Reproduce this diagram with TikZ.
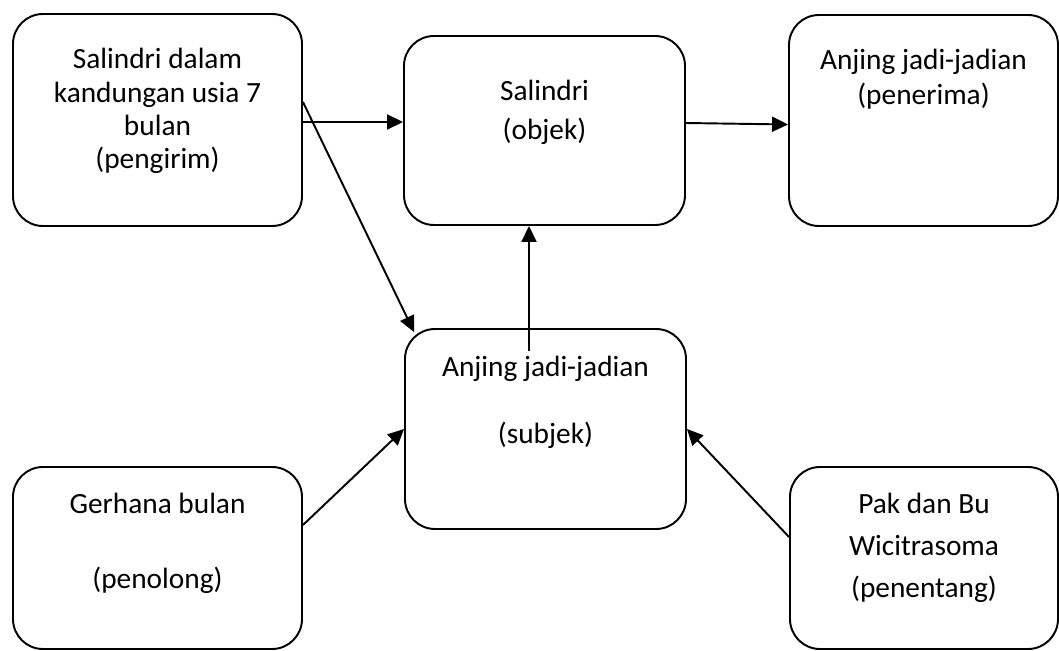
\documentclass[tikz,border=0pt]{standalone}
\usepackage{fontspec}
\setmainfont{Carlito}
\usetikzlibrary{arrows.meta}

\begin{document}
\begin{tikzpicture}[
	kotak/.style={draw, rectangle, rounded corners=0.6cm, line width=1.1pt, inner sep=0pt},
	teks/.style={align=center, anchor=base, inner sep=0pt, font=\fontsize{16.7pt}{#1}\selectfont},
	panah/.style={-{Triangle[length=0.32cm,width=0.3cm]}, line width=1.1pt}
	]
		
		\useasboundingbox (0,0) rectangle (21.18,-13.02);
		
		%Kotak aktan baris atas
		\node (pengirim) at (3.15,-2.40) [kotak, minimum width=5.78cm, minimum height=4.24cm]{};
		
		\node (objek) at (10.89,-2.61) [kotak, minimum width=5.62cm, minimum height=3.78cm]{};
		
		\node (penerima) at (18.47,-2.41) [kotak, minimum width=5.38cm, minimum height=4.22cm]{};
		
		%Kotak aktan tengah dan bawah
		\node (subjek) at (10.91,-8.58) [kotak, minimum width=5.62cm, minimum height=4.00cm]{};
		
		\node (penolong) at (3.15,-11.16) [kotak, minimum width=5.78cm, minimum height=3.64cm]{};
		
		\node (penentang) at (18.48,-11.16) [kotak, minimum width=5.36cm, minimum height=3.64cm]{};
		
		%Teks dalam kotak (titik = garis dasar baris terakhir)
		\node (teksPengirim) at (3.15,-3.38) [teks=19pt]{Salindri dalam\\kandungan usia 7\\bulan\\(pengirim)};
		
		\node (teksObjek) at (10.89,-2.80) [teks=22.7pt]{Salindri\\(objek)};
		
		\node (teksPenerima) at (18.47,-2.10) [teks=20.2pt]{Anjing jadi-jadian\\(penerima)};
		
		\node (teksSubjek) at (10.91,-8.86) [teks=18.8pt]{Anjing jadi-jadian\\[18.8pt](subjek)};
		
		\node (teksPenolong) at (3.15,-11.76) [teks=21.3pt]{Gerhana bulan\\[21.3pt](penolong)};
		
		\node (teksPenentang) at (18.48,-11.94) [teks=23.9pt]{Pak dan Bu\\Wicitrasoma\\(penentang)};
		
		%Panah antar kotak
		\draw[panah] ([yshift=-0.04cm]pengirim.east) -- ([yshift=-0.04cm]pengirim.east -| objek.west);
		
		\draw[panah] ([yshift=-0.05cm]objek.east |- penerima.west) -- ([yshift=-0.08cm]penerima.west);
		
		\draw[panah] ([yshift=0.36cm]pengirim.east) -- ([xshift=0.2cm,yshift=-0.08cm]subjek.north west);
		
		\coordinate (pangkal) at ([xshift=-0.33cm,yshift=-0.46cm]subjek.north);
		\draw[panah] (pangkal) -- (pangkal |- objek.south);
		
		\draw[panah] ([yshift=0.66cm]penolong.east) -- (subjek.west);
		
		\draw[panah] ([yshift=0.42cm]penentang.west) -- (subjek.east);
		
\end{tikzpicture}
\end{document}
